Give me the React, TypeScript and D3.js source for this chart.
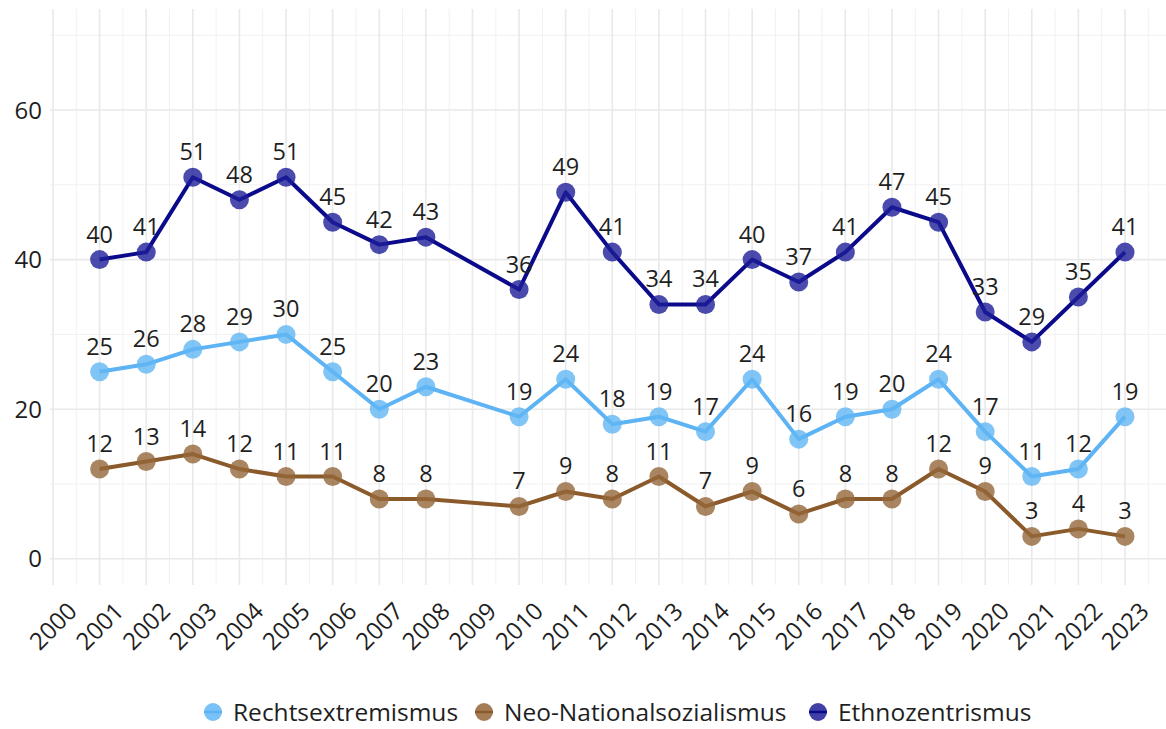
import React from 'react';
import * as d3 from 'd3';

// survey years (2009 has no data)
const years = [2001, 2002, 2003, 2004, 2005, 2006, 2007, 2008, 2010, 2011, 2012, 2013, 2014, 2015, 2016, 2017, 2018, 2019, 2020, 2021, 2022, 2023];
const ethnozentrismus = [40, 41, 51, 48, 51, 45, 42, 43, 36, 49, 41, 34, 34, 40, 37, 41, 47, 45, 33, 29, 35, 41];
const rechtsextremismus = [25, 26, 28, 29, 30, 25, 20, 23, 19, 24, 18, 19, 17, 24, 16, 19, 20, 24, 17, 11, 12, 19];
const neoNationalsozialismus = [12, 13, 14, 12, 11, 11, 8, 8, 7, 9, 8, 11, 7, 9, 6, 8, 8, 12, 9, 3, 4, 3];

const xTicks = d3.range(2000, 2024);
const yTicks = [0, 20, 40, 60];
const yMinor = [10, 30, 50, 70];

const series = [
  { name: 'Rechtsextremismus', values: rechtsextremismus, line: '#5db3f3', point: '#62b6f4' },
  { name: 'Neo-Nationalsozialismus', values: neoNationalsozialismus, line: '#8a5a2b', point: '#94663a' },
  { name: 'Ethnozentrismus', values: ethnozentrismus, line: '#0a0a8a', point: '#1e1e98' },
];

const W = 1166;
const H = 729;
const FONT = '"Open Sans", sans-serif';
const TEXT = '#1f1f1f';

const x = d3.scaleLinear().domain([2000, 2023]).range([53, 1125]);
const y = d3.scaleLinear().domain([-3.5, 73.5]).range([585, 9]);

const panelLeft = 50;
const panelRight = 1166;

export default function App() {
  const line = d3.line<[number, number]>()
    .x(d => x(d[0]))
    .y(d => y(d[1]));

  const xMinor = xTicks.map(t => t + 0.5).filter(t => x(t) < panelRight);

  // legend layout
  const legendX = [213, 484, 818];
  const legendY = 712;

  return (
    <svg width={W} height={H} style={{ position: 'absolute', left: 0, top: 0, background: '#fff' }} fontFamily={FONT}>
      {/* grid */}
      <g>
        {yMinor.map(v => (
          <line key={'ym' + v} x1={panelLeft} x2={panelRight} y1={y(v)} y2={y(v)} stroke="#f1f1f1" strokeWidth={1} />
        ))}
        {xMinor.map(v => (
          <line key={'xm' + v} x1={x(v)} x2={x(v)} y1={y(-3.5)} y2={y(73.5)} stroke="#f1f1f1" strokeWidth={1} />
        ))}
        {yTicks.map(v => (
          <line key={'yg' + v} x1={panelLeft} x2={panelRight} y1={y(v)} y2={y(v)} stroke="#e9e9e9" strokeWidth={1.6} />
        ))}
        {xTicks.map(v => (
          <line key={'xg' + v} x1={x(v)} x2={x(v)} y1={y(-3.5)} y2={y(73.5)} stroke="#e9e9e9" strokeWidth={1.6} />
        ))}
      </g>

      {/* y axis labels */}
      <g fontSize={24} fill={TEXT} textAnchor="end">
        {yTicks.map(v => (
          <text key={'yl' + v} x={42} y={y(v)} dy="0.36em">{v}</text>
        ))}
      </g>

      {/* x axis labels */}
      <g fontSize={24} fill={TEXT} textAnchor="middle">
        {xTicks.map(v => (
          <text key={'xl' + v} transform={`translate(${x(v)},626) rotate(-45)`} dy="0.36em">{v}</text>
        ))}
      </g>

      {/* series */}
      {series.map(s => {
        const pts = years.map((yr, i) => [yr, s.values[i]] as [number, number]);
        return (
          <g key={s.name}>
            <path d={line(pts) || ''} fill="none" stroke={s.line} strokeWidth={4} strokeLinejoin="round" />
            {pts.map(p => (
              <circle key={p[0]} cx={x(p[0])} cy={y(p[1])} r={9.5} fill={s.point} fillOpacity={0.8} />
            ))}
            {pts.map(p => (
              <text key={'t' + p[0]} x={x(p[0])} y={y(p[1]) - 17} textAnchor="middle" fontSize={23.5} fill={TEXT}>{p[1]}</text>
            ))}
          </g>
        );
      })}

      {/* legend */}
      <g>
        {series.map((s, i) => (
          <g key={'lg' + s.name}>
            <circle cx={legendX[i]} cy={legendY} r={9} fill={s.point} fillOpacity={0.85} />
            <line x1={legendX[i] - 9} x2={legendX[i] + 9} y1={legendY} y2={legendY} stroke={s.line} strokeWidth={2.5} />
            <text x={legendX[i] + 20} y={legendY} dy="0.36em" fontSize={24.5} fill={TEXT}>{s.name}</text>
          </g>
        ))}
      </g>
    </svg>
  );
}
